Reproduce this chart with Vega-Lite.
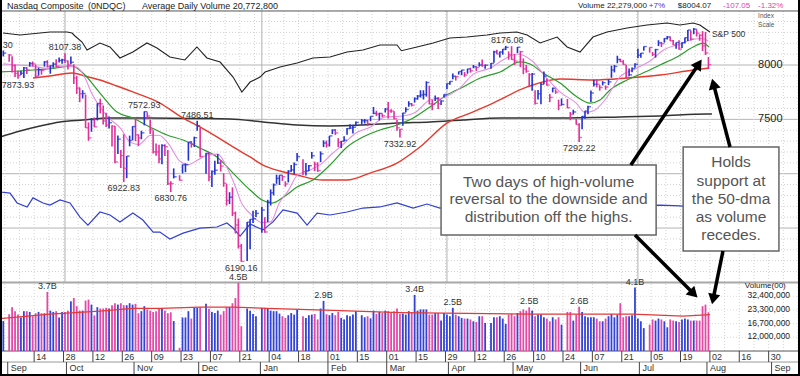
{
"$schema":"https://vega.github.io/schema/vega-lite/v6.json",
"width":800,"height":376,"padding":0,"autosize":{"type":"none"},
"background":"white",
"config":{"view":{"stroke":null},"axis":{"disable":true},"legend":{"disable":true},"font":"Liberation Sans"},
"resolve":{"scale":{"y":"independent","color":"independent"}},
"datasets":{
"hdot":[{"p":6100},{"p":6200},{"p":6300},{"p":6400},{"p":6600},{"p":6700},{"p":6800},{"p":6900},{"p":7100},{"p":7200},{"p":7300},{"p":7400},{"p":7600},{"p":7700},{"p":7800},{"p":7900},{"p":8100},{"p":8200},{"p":8300},{"p":8400}],
"hsolid":[{"p":6500},{"p":7000},{"p":7500},{"p":8000}],
"vdot":[{"w":0.5},{"w":5.5},{"w":10.5},{"w":15.5},{"w":20.5},{"w":25.5},{"w":30.5},{"w":35.5},{"w":40.5},{"w":45.5},{"w":50.5},{"w":55.5},{"w":60.5},{"w":65.5},{"w":70.5},{"w":75.5},{"w":80.5},{"w":85.5},{"w":90.5},{"w":95.5},{"w":100.5},{"w":105.5},{"w":110.5},{"w":115.5},{"w":120.5},{"w":125.5},{"w":130.5},{"w":135.5},{"w":140.5},{"w":145.5},{"w":150.5},{"w":155.5},{"w":160.5},{"w":165.5},{"w":170.5},{"w":175.5},{"w":180.5},{"w":185.5},{"w":190.5},{"w":195.5},{"w":200.5},{"w":205.5},{"w":210.5},{"w":215.5},{"w":220.5},{"w":225.5},{"w":230.5},{"w":235.5},{"w":240.5},{"w":245.5},{"w":250.5},{"w":255.5},{"w":260.5},{"w":265.5},{"w":270.5}],
"qtr":[{"w":21},{"w":88},{"w":151},{"w":216}],
"ma200":[{"w":-1.1,"p":7338},{"w":5.7,"p":7393},{"w":12.5,"p":7439},{"w":19.3,"p":7476},{"w":27.1,"p":7494},{"w":36.3,"p":7512},{"w":49.9,"p":7512},{"w":66.9,"p":7508},{"w":77.2,"p":7503},{"w":88.4,"p":7476},{"w":100,"p":7448},{"w":111.2,"p":7439},{"w":122.4,"p":7448},{"w":134,"p":7466},{"w":145.2,"p":7476},{"w":156.5,"p":7494},{"w":169.1,"p":7512},{"w":189.5,"p":7512},{"w":209.9,"p":7522},{"w":223.5,"p":7531},{"w":239.5,"p":7549},{"w":241.2,"p":7549}],
"ma50":[{"w":10.1,"p":7880},{"w":15.9,"p":7899},{"w":23.4,"p":7926},{"w":27.8,"p":7899},{"w":32.9,"p":7862},{"w":38.7,"p":7807},{"w":44.1,"p":7752},{"w":53.3,"p":7650},{"w":61.2,"p":7512},{"w":66.9,"p":7430},{"w":72.7,"p":7338},{"w":78.2,"p":7246},{"w":84.0,"p":7154},{"w":88.4,"p":7080},{"w":94.2,"p":7025},{"w":100,"p":6988},{"w":108.8,"p":6942},{"w":117,"p":6942},{"w":124.8,"p":7006},{"w":134,"p":7098},{"w":141.8,"p":7246},{"w":151,"p":7466},{"w":158.9,"p":7558},{"w":166.7,"p":7650},{"w":178.3,"p":7798},{"w":189.5,"p":7871},{"w":200.7,"p":7862},{"w":212.3,"p":7880},{"w":223.5,"p":7908},{"w":234.8,"p":7954},{"w":240.2,"p":7972}],
"ma21":[{"w":-1.1,"p":7936},{"w":10.1,"p":7954},{"w":17.6,"p":7972},{"w":23.4,"p":7991},{"w":27.1,"p":7926},{"w":32.9,"p":7742},{"w":38.7,"p":7568},{"w":44.1,"p":7512},{"w":49.9,"p":7430},{"w":55.7,"p":7356},{"w":61.2,"p":7310},{"w":66.9,"p":7236},{"w":72.7,"p":7154},{"w":78.2,"p":7006},{"w":84.0,"p":6850},{"w":88.1,"p":6758},{"w":91.5,"p":6730},{"w":95.9,"p":6795},{"w":100,"p":6878},{"w":105.4,"p":6942},{"w":111.2,"p":7080},{"w":117,"p":7246},{"w":122.4,"p":7338},{"w":128.2,"p":7402},{"w":134,"p":7448},{"w":139.5,"p":7512},{"w":145.2,"p":7614},{"w":151,"p":7724},{"w":156.5,"p":7798},{"w":162.3,"p":7880},{"w":169.1,"p":7936},{"w":175.9,"p":8028},{"w":179.3,"p":8009},{"w":183.7,"p":7926},{"w":189.5,"p":7834},{"w":195.3,"p":7706},{"w":199.7,"p":7650},{"w":203.1,"p":7678},{"w":206.5,"p":7770},{"w":212.3,"p":7862},{"w":217.7,"p":7926},{"w":223.5,"p":8000},{"w":229.3,"p":8074},{"w":234.8,"p":8166},{"w":238.1,"p":8202},{"w":240.2,"p":8166}],
"ma10":[{"w":0,"p":8010},{"w":5,"p":8000},{"w":10,"p":7990},{"w":15,"p":7969},{"w":20,"p":7990},{"w":25,"p":7981},{"w":28,"p":7871},{"w":30,"p":7745},{"w":33,"p":7611},{"w":36,"p":7511},{"w":40,"p":7415},{"w":43,"p":7295},{"w":46,"p":7267},{"w":50,"p":7352},{"w":53,"p":7354},{"w":56,"p":7284},{"w":60,"p":7118},{"w":63,"p":7083},{"w":66,"p":7123},{"w":70,"p":7176},{"w":73,"p":7180},{"w":76,"p":7064},{"w":79,"p":6880},{"w":81,"p":6734},{"w":84,"p":6634},{"w":88,"p":6550},{"w":91,"p":6557},{"w":94,"p":6733},{"w":97,"p":6844},{"w":100,"p":6984},{"w":104,"p":7029},{"w":108,"p":7086},{"w":112,"p":7186},{"w":116,"p":7278},{"w":120,"p":7375},{"w":125,"p":7430},{"w":130,"p":7522},{"w":135,"p":7528},{"w":140,"p":7560},{"w":145,"p":7676},{"w":150,"p":7702},{"w":155,"p":7778},{"w":160,"p":7916},{"w":166,"p":7974},{"w":170,"p":8046},{"w":175,"p":8101},{"w":180,"p":8037},{"w":185,"p":7878},{"w":190,"p":7742},{"w":195,"p":7650},{"w":198,"p":7563},{"w":201,"p":7579},{"w":205,"p":7687},{"w":210,"p":7894},{"w":215,"p":7964},{"w":220,"p":8034},{"w":225,"p":8142},{"w":230,"p":8190},{"w":235,"p":8237},{"w":238,"p":8244},{"w":240,"p":8220}],
"spx":[{"w":-0.1,"s":2914},{"w":5.7,"s":2895},{"w":12.5,"s":2914},{"w":15.9,"s":2924},{"w":21.7,"s":2924},{"w":23.4,"s":2914},{"w":24.4,"s":2886},{"w":26.8,"s":2828},{"w":28.5,"s":2752},{"w":32.9,"s":2819},{"w":36.3,"s":2781},{"w":39.7,"s":2676},{"w":44.1,"s":2733},{"w":48.9,"s":2819},{"w":52.3,"s":2771},{"w":56.7,"s":2685},{"w":61.8,"s":2657},{"w":65.9,"s":2781},{"w":69.3,"s":2676},{"w":73.8,"s":2637},{"w":78.2,"s":2494},{"w":81.2,"s":2351},{"w":84.0,"s":2446},{"w":87.4,"s":2494},{"w":89.1,"s":2542},{"w":94.2,"s":2590},{"w":100,"s":2628},{"w":105.4,"s":2676},{"w":111.2,"s":2685},{"w":117,"s":2733},{"w":122.4,"s":2752},{"w":128.2,"s":2800},{"w":134,"s":2800},{"w":135.5,"s":2745},{"w":140.8,"s":2781},{"w":146.3,"s":2819},{"w":152,"s":2867},{"w":157.8,"s":2876},{"w":164.6,"s":2895},{"w":169.1,"s":2914},{"w":174.8,"s":2924},{"w":178.3,"s":2895},{"w":182.7,"s":2819},{"w":188.5,"s":2876},{"w":191.9,"s":2781},{"w":196.3,"s":2733},{"w":200.7,"s":2876},{"w":205.5,"s":2924},{"w":212.3,"s":2962},{"w":219.1,"s":2991},{"w":225.9,"s":3010},{"w":230.3,"s":2991},{"w":234.8,"s":3010},{"w":237.1,"s":2991},{"w":240.5,"s":2924}],
"rs":[{"w":-1.1,"r":2.795},{"w":2.3,"r":2.791},{"w":4.7,"r":2.754},{"w":8.1,"r":2.739},{"w":10.1,"r":2.773},{"w":13.5,"r":2.754},{"w":15.9,"r":2.746},{"w":19.3,"r":2.765},{"w":22.7,"r":2.754},{"w":26.1,"r":2.701},{"w":28.8,"r":2.671},{"w":32.9,"r":2.72},{"w":36.3,"r":2.709},{"w":39.7,"r":2.683},{"w":44.1,"r":2.716},{"w":47.5,"r":2.69},{"w":51,"r":2.645},{"w":53.3,"r":2.645},{"w":56.7,"r":2.619},{"w":61.2,"r":2.641},{"w":66.9,"r":2.66},{"w":72.7,"r":2.664},{"w":76.1,"r":2.679},{"w":78.2,"r":2.66},{"w":80.6,"r":2.63},{"w":84,"r":2.675},{"w":88.4,"r":2.653},{"w":91.8,"r":2.683},{"w":95.2,"r":2.728},{"w":100,"r":2.716},{"w":103.4,"r":2.671},{"w":106.8,"r":2.716},{"w":111.2,"r":2.709},{"w":117,"r":2.72},{"w":122.4,"r":2.735},{"w":128.2,"r":2.739},{"w":134,"r":2.754},{"w":139.5,"r":2.735},{"w":144.2,"r":2.75},{"w":148.6,"r":2.735},{"w":155.4,"r":2.743},{"w":162.3,"r":2.754},{"w":169.1,"r":2.746},{"w":175.9,"r":2.754},{"w":182.7,"r":2.739},{"w":189.5,"r":2.731},{"w":196.3,"r":2.724},{"w":203.1,"r":2.739},{"w":209.9,"r":2.743},{"w":216.7,"r":2.743},{"w":223.5,"r":2.746},{"w":230.3,"r":2.743},{"w":233.7,"r":2.739},{"w":237.1,"r":2.743},{"w":240.5,"r":2.731}],
"vavg":[{"w":-1.1,"v":1.89},{"w":15.9,"v":2.1},{"w":32.9,"v":2.26},{"w":44.1,"v":2.42},{"w":53.3,"v":2.42},{"w":66.9,"v":2.49},{"w":78.2,"v":2.49},{"w":89.8,"v":2.42},{"w":112.2,"v":2.3},{"w":135,"v":2.18},{"w":157.8,"v":2.14},{"w":180.3,"v":2.1},{"w":203.1,"v":2.1},{"w":214.3,"v":2.1},{"w":231.4,"v":2.0},{"w":240.5,"v":2.08}],
"px":[
{"w":0,"h":8133,"l":8079,"c":8110,"d":"up","v":1.78},
{"w":2,"h":8102,"l":8029,"c":8091,"d":"dn","v":2.1},
{"w":3,"h":8080,"l":7931,"c":7995,"d":"dn","v":2.49},
{"w":4,"h":8004,"l":7889,"c":7923,"d":"dn","v":2.26},
{"w":5,"h":7948,"l":7874,"c":7903,"d":"dn","v":2.08},
{"w":6,"h":7948,"l":7907,"c":7924,"d":"up","v":1.94},
{"w":7,"h":7981,"l":7880,"c":7973,"d":"up","v":2.26},
{"w":8,"h":7979,"l":7918,"c":7954,"d":"dn","v":2.26},
{"w":9,"h":8028,"l":7985,"c":8014,"d":"up","v":2.22},
{"w":10,"h":8033,"l":7986,"c":8010,"d":"dn","v":2.0},
{"w":11,"h":8003,"l":7888,"c":7896,"d":"dn","v":2.15},
{"w":12,"h":7976,"l":7901,"c":7956,"d":"up","v":2.22},
{"w":13,"h":7964,"l":7911,"c":7950,"d":"dn","v":2.15},
{"w":14,"h":8036,"l":7985,"c":8028,"d":"up","v":2.15},
{"w":15,"h":8044,"l":7977,"c":7987,"d":"dn","v":3.6},
{"w":16,"h":7996,"l":7920,"c":7993,"d":"up","v":2.29},
{"w":17,"h":8025,"l":7976,"c":8008,"d":"up","v":2.22},
{"w":18,"h":8054,"l":7978,"c":7990,"d":"dn","v":2.26},
{"w":19,"h":8069,"l":8022,"c":8042,"d":"up","v":1.94},
{"w":20,"h":8058,"l":8012,"c":8046,"d":"up","v":2.22},
{"w":21,"h":8107,"l":8018,"c":8037,"d":"dn","v":2.22},
{"w":22,"h":8042,"l":7959,"c":8000,"d":"dn","v":2.29},
{"w":23,"h":8079,"l":8006,"c":8025,"d":"up","v":2.87},
{"w":24,"h":8007,"l":7825,"c":7880,"d":"dn","v":3.11},
{"w":25,"h":7898,"l":7734,"c":7788,"d":"dn","v":2.55},
{"w":26,"h":7793,"l":7658,"c":7736,"d":"dn","v":2.29},
{"w":27,"h":7768,"l":7692,"c":7738,"d":"up","v":2.29},
{"w":28,"h":7728,"l":7421,"c":7422,"d":"dn","v":2.92},
{"w":29,"h":7472,"l":7303,"c":7329,"d":"dn","v":2.99},
{"w":30,"h":7512,"l":7386,"c":7497,"d":"up","v":2.65},
{"w":31,"h":7518,"l":7428,"c":7431,"d":"dn","v":2.04},
{"w":32,"h":7647,"l":7490,"c":7646,"d":"up","v":2.49},
{"w":33,"h":7690,"l":7555,"c":7643,"d":"dn","v":2.41},
{"w":34,"h":7628,"l":7452,"c":7485,"d":"dn","v":2.41},
{"w":35,"h":7560,"l":7429,"c":7449,"d":"dn","v":2.45},
{"w":36,"h":7526,"l":7415,"c":7469,"d":"up","v":2.41},
{"w":37,"h":7445,"l":7250,"c":7438,"d":"dn","v":2.61},
{"w":38,"h":7439,"l":7096,"c":7108,"d":"dn","v":2.74},
{"w":39,"h":7352,"l":7182,"c":7318,"d":"up","v":2.65},
{"w":40,"h":7218,"l":7053,"c":7167,"d":"dn","v":2.74},
{"w":41,"h":7362,"l":6923,"c":7050,"d":"dn","v":2.61},
{"w":42,"h":7163,"l":6959,"c":7162,"d":"up","v":2.61},
{"w":43,"h":7350,"l":7252,"c":7306,"d":"up","v":2.74},
{"w":44,"h":7437,"l":7310,"c":7434,"d":"up","v":2.65},
{"w":45,"h":7520,"l":7299,"c":7357,"d":"dn","v":2.7},
{"w":46,"h":7362,"l":7254,"c":7329,"d":"dn","v":2.15},
{"w":47,"h":7395,"l":7317,"c":7376,"d":"up","v":2.26},
{"w":48,"h":7573,"l":7445,"c":7571,"d":"up","v":2.55},
{"w":49,"h":7565,"l":7504,"c":7531,"d":"dn","v":2.36},
{"w":50,"h":7496,"l":7366,"c":7407,"d":"dn","v":2.29},
{"w":51,"h":7399,"l":7185,"c":7201,"d":"dn","v":2.22},
{"w":52,"h":7278,"l":7165,"c":7200,"d":"dn","v":2.26},
{"w":53,"h":7267,"l":7096,"c":7136,"d":"dn","v":2.41},
{"w":54,"h":7272,"l":7086,"c":7259,"d":"up","v":2.41},
{"w":55,"h":7270,"l":7162,"c":7248,"d":"dn","v":2.29},
{"w":56,"h":7219,"l":6895,"c":6909,"d":"dn","v":2.15},
{"w":57,"h":6931,"l":6831,"c":6909,"d":"dn","v":2.2},
{"w":58,"h":7049,"l":6957,"c":6972,"d":"up","v":1.78},
{"w":60,"h":6986,"l":6937,"c":6939,"d":"dn","v":0.93},
{"w":61,"h":7084,"l":7003,"c":7082,"d":"up","v":1.94},
{"w":62,"h":7095,"l":7014,"c":7083,"d":"up","v":1.94},
{"w":63,"h":7292,"l":7120,"c":7292,"d":"up","v":2.26},
{"w":64,"h":7300,"l":7240,"c":7273,"d":"dn","v":1.89},
{"w":65,"h":7341,"l":7246,"c":7331,"d":"up","v":2.45},
{"w":66,"h":7487,"l":7395,"c":7442,"d":"up","v":2.45},
{"w":67,"h":7423,"l":7151,"c":7158,"d":"dn","v":2.49},
{"w":69,"h":7191,"l":7000,"c":7188,"d":"up","v":2.7},
{"w":70,"h":7197,"l":6930,"c":6969,"d":"dn","v":2.4},
{"w":71,"h":7029,"l":6878,"c":7021,"d":"up","v":2.22},
{"w":72,"h":7119,"l":6990,"c":7032,"d":"up","v":2.16},
{"w":73,"h":7180,"l":7090,"c":7098,"d":"up","v":2.29},
{"w":74,"h":7126,"l":7020,"c":7070,"d":"dn","v":2.08},
{"w":75,"h":7005,"l":6880,"c":6911,"d":"dn","v":2.26},
{"w":76,"h":6905,"l":6707,"c":6754,"d":"dn","v":2.49},
{"w":77,"h":6830,"l":6720,"c":6784,"d":"up","v":2.49},
{"w":78,"h":6874,"l":6611,"c":6637,"d":"dn","v":2.74},
{"w":79,"h":6651,"l":6450,"c":6528,"d":"dn","v":3.1},
{"w":80,"h":6587,"l":6312,"c":6333,"d":"dn","v":4.5},
{"w":81,"h":6355,"l":6190,"c":6193,"d":"dn","v":1.57},
{"w":83,"h":6555,"l":6197,"c":6554,"d":"up","v":2.41},
{"w":84,"h":6580,"l":6305,"c":6580,"d":"up","v":2.29},
{"w":85,"h":6660,"l":6546,"c":6585,"d":"up","v":2.11},
{"w":86,"h":6665,"l":6602,"c":6635,"d":"up","v":2.0},
{"w":88,"h":6693,"l":6457,"c":6666,"d":"up","v":2.45},
{"w":89,"h":6600,"l":6457,"c":6464,"d":"dn","v":2.45},
{"w":90,"h":6760,"l":6555,"c":6739,"d":"up","v":2.41},
{"w":91,"h":6856,"l":6708,"c":6824,"d":"up","v":2.29},
{"w":92,"h":6910,"l":6800,"c":6897,"d":"up","v":2.26},
{"w":93,"h":6991,"l":6907,"c":6957,"d":"up","v":2.26},
{"w":94,"h":6987,"l":6896,"c":6986,"d":"up","v":2.13},
{"w":95,"h":6986,"l":6934,"c":6972,"d":"dn","v":2.0},
{"w":96,"h":6930,"l":6880,"c":6906,"d":"dn","v":1.92},
{"w":97,"h":7032,"l":6920,"c":7024,"d":"up","v":2.05},
{"w":98,"h":7080,"l":7018,"c":7035,"d":"up","v":2.16},
{"w":99,"h":7102,"l":6995,"c":7085,"d":"up","v":2.08},
{"w":100,"h":7190,"l":7115,"c":7157,"d":"up","v":2.36},
{"w":102,"h":7133,"l":6988,"c":7020,"d":"dn","v":2.0},
{"w":103,"h":7098,"l":6983,"c":7026,"d":"up","v":1.92},
{"w":104,"h":7081,"l":7025,"c":7074,"d":"up","v":2.05},
{"w":105,"h":7200,"l":7139,"c":7165,"d":"up","v":2.08},
{"w":106,"h":7111,"l":7024,"c":7086,"d":"dn","v":2.11},
{"w":107,"h":7105,"l":7017,"c":7028,"d":"dn","v":1.85},
{"w":108,"h":7205,"l":7106,"c":7183,"d":"up","v":2.41},
{"w":109,"h":7307,"l":7245,"c":7282,"d":"up","v":2.9},
{"w":110,"h":7305,"l":7240,"c":7264,"d":"dn","v":2.1},
{"w":111,"h":7348,"l":7250,"c":7348,"d":"up","v":2.05},
{"w":112,"h":7408,"l":7364,"c":7402,"d":"up","v":2.16},
{"w":113,"h":7410,"l":7357,"c":7375,"d":"dn","v":2.05},
{"w":114,"h":7327,"l":7245,"c":7288,"d":"dn","v":2.22},
{"w":115,"h":7300,"l":7236,"c":7298,"d":"up","v":1.92},
{"w":116,"h":7345,"l":7297,"c":7308,"d":"up","v":1.85},
{"w":117,"h":7421,"l":7359,"c":7415,"d":"up","v":2.05},
{"w":118,"h":7455,"l":7411,"c":7420,"d":"up","v":2.0},
{"w":119,"h":7451,"l":7370,"c":7427,"d":"up","v":2.08},
{"w":120,"h":7480,"l":7437,"c":7472,"d":"up","v":2.26},
{"w":122,"h":7503,"l":7452,"c":7487,"d":"up","v":2.05},
{"w":123,"h":7503,"l":7462,"c":7489,"d":"up","v":1.95},
{"w":124,"h":7496,"l":7438,"c":7460,"d":"dn","v":2.0},
{"w":125,"h":7528,"l":7483,"c":7528,"d":"up","v":1.9},
{"w":126,"h":7614,"l":7548,"c":7555,"d":"up","v":2.29},
{"w":127,"h":7580,"l":7530,"c":7549,"d":"dn","v":2.11},
{"w":128,"h":7560,"l":7490,"c":7555,"d":"up","v":2.22},
{"w":129,"h":7552,"l":7519,"c":7533,"d":"dn","v":2.16},
{"w":130,"h":7603,"l":7563,"c":7595,"d":"up","v":2.29},
{"w":131,"h":7660,"l":7509,"c":7578,"d":"dn","v":2.26},
{"w":132,"h":7594,"l":7560,"c":7576,"d":"dn","v":2.16},
{"w":133,"h":7575,"l":7501,"c":7506,"d":"dn","v":2.26},
{"w":134,"h":7495,"l":7396,"c":7422,"d":"dn","v":2.41},
{"w":135,"h":7412,"l":7333,"c":7408,"d":"dn","v":2.11},
{"w":136,"h":7560,"l":7442,"c":7558,"d":"up","v":2.13},
{"w":137,"h":7612,"l":7565,"c":7591,"d":"up","v":2.08},
{"w":138,"h":7667,"l":7616,"c":7643,"d":"up","v":2.26},
{"w":139,"h":7650,"l":7619,"c":7631,"d":"dn","v":2.2},
{"w":140,"h":7702,"l":7654,"c":7689,"d":"up","v":3.35},
{"w":141,"h":7723,"l":7681,"c":7715,"d":"up","v":2.29},
{"w":142,"h":7768,"l":7701,"c":7724,"d":"up","v":2.36},
{"w":143,"h":7768,"l":7683,"c":7729,"d":"up","v":2.36},
{"w":144,"h":7850,"l":7709,"c":7839,"d":"up","v":2.36},
{"w":145,"h":7810,"l":7638,"c":7643,"d":"dn","v":2.08},
{"w":146,"h":7680,"l":7584,"c":7638,"d":"dn","v":2.08},
{"w":147,"h":7720,"l":7670,"c":7692,"d":"up","v":2.16},
{"w":148,"h":7705,"l":7595,"c":7643,"d":"dn","v":2.16},
{"w":149,"h":7676,"l":7632,"c":7669,"d":"up","v":1.8},
{"w":150,"h":7732,"l":7700,"c":7729,"d":"up","v":2.16},
{"w":151,"h":7830,"l":7780,"c":7829,"d":"up","v":2.08},
{"w":152,"h":7850,"l":7818,"c":7849,"d":"up","v":2.0},
{"w":153,"h":7922,"l":7870,"c":7896,"d":"up","v":2.45},
{"w":154,"h":7901,"l":7857,"c":7892,"d":"dn","v":2.08},
{"w":155,"h":7940,"l":7912,"c":7939,"d":"up","v":2.0},
{"w":156,"h":7955,"l":7906,"c":7954,"d":"up","v":1.92},
{"w":157,"h":7935,"l":7891,"c":7909,"d":"dn","v":1.89},
{"w":158,"h":7966,"l":7920,"c":7964,"d":"up","v":1.89},
{"w":159,"h":7975,"l":7930,"c":7947,"d":"dn","v":1.85},
{"w":160,"h":8000,"l":7970,"c":7984,"d":"up","v":1.77},
{"w":161,"h":7988,"l":7945,"c":7976,"d":"dn","v":1.74},
{"w":162,"h":8025,"l":7985,"c":8000,"d":"up","v":2.0},
{"w":163,"h":8051,"l":7983,"c":7996,"d":"dn","v":2.0},
{"w":164,"h":8004,"l":7966,"c":7998,"d":"up","v":1.7},
{"w":166,"h":8018,"l":7966,"c":8015,"d":"up","v":1.7},
{"w":167,"h":8130,"l":8021,"c":8121,"d":"up","v":1.95},
{"w":168,"h":8140,"l":8100,"c":8102,"d":"dn","v":1.95},
{"w":169,"h":8125,"l":8070,"c":8119,"d":"up","v":2.0},
{"w":170,"h":8147,"l":8095,"c":8146,"d":"up","v":1.89},
{"w":171,"h":8176,"l":8137,"c":8162,"d":"up","v":1.66},
{"w":172,"h":8125,"l":8049,"c":8095,"d":"dn","v":2.08},
{"w":173,"h":8173,"l":8048,"c":8050,"d":"dn","v":2.11},
{"w":174,"h":8101,"l":8000,"c":8037,"d":"dn","v":2.0},
{"w":175,"h":8166,"l":8110,"c":8164,"d":"up","v":2.16},
{"w":176,"h":8130,"l":7980,"c":8123,"d":"dn","v":2.26},
{"w":177,"h":8060,"l":7915,"c":7964,"d":"dn","v":2.36},
{"w":178,"h":8000,"l":7929,"c":7943,"d":"dn","v":2.29},
{"w":179,"h":7925,"l":7800,"c":7911,"d":"dn","v":2.48},
{"w":180,"h":7926,"l":7764,"c":7917,"d":"up","v":2.29},
{"w":181,"h":7768,"l":7636,"c":7647,"d":"dn","v":2.0},
{"w":182,"h":7770,"l":7683,"c":7735,"d":"up","v":2.08},
{"w":183,"h":7837,"l":7638,"c":7822,"d":"up","v":2.08},
{"w":184,"h":7940,"l":7824,"c":7898,"d":"up","v":1.95},
{"w":185,"h":7876,"l":7809,"c":7816,"d":"dn","v":1.89},
{"w":186,"h":7734,"l":7658,"c":7702,"d":"dn","v":1.77},
{"w":187,"h":7792,"l":7748,"c":7786,"d":"up","v":1.95},
{"w":188,"h":7776,"l":7735,"c":7751,"d":"dn","v":1.85},
{"w":189,"h":7681,"l":7584,"c":7628,"d":"dn","v":1.95},
{"w":190,"h":7692,"l":7627,"c":7637,"d":"up","v":1.63},
{"w":192,"h":7688,"l":7602,"c":7607,"d":"dn","v":2.22},
{"w":193,"h":7568,"l":7492,"c":7547,"d":"dn","v":2.22},
{"w":194,"h":7589,"l":7545,"c":7568,"d":"up","v":1.8},
{"w":195,"h":7504,"l":7452,"c":7453,"d":"dn","v":2.08},
{"w":196,"h":7464,"l":7292,"c":7333,"d":"dn","v":2.52},
{"w":197,"h":7530,"l":7410,"c":7527,"d":"up","v":2.22},
{"w":198,"h":7580,"l":7506,"c":7576,"d":"up","v":2.0},
{"w":199,"h":7625,"l":7548,"c":7616,"d":"up","v":1.95},
{"w":200,"h":7765,"l":7660,"c":7742,"d":"up","v":1.95},
{"w":201,"h":7865,"l":7802,"c":7823,"d":"up","v":1.95},
{"w":202,"h":7870,"l":7795,"c":7823,"d":"dn","v":1.89},
{"w":203,"h":7815,"l":7764,"c":7793,"d":"dn","v":1.77},
{"w":204,"h":7851,"l":7812,"c":7837,"d":"up","v":1.77},
{"w":205,"h":7812,"l":7772,"c":7797,"d":"dn","v":1.89},
{"w":206,"h":7867,"l":7815,"c":7845,"d":"up","v":2.0},
{"w":207,"h":7993,"l":7882,"c":7954,"d":"up","v":2.11},
{"w":208,"h":8000,"l":7932,"c":7987,"d":"up","v":1.95},
{"w":209,"h":8085,"l":8016,"c":8051,"d":"up","v":2.08},
{"w":210,"h":8058,"l":8027,"c":8032,"d":"dn","v":2.74},
{"w":211,"h":8045,"l":8002,"c":8006,"d":"dn","v":1.95},
{"w":212,"h":8000,"l":7875,"c":7885,"d":"dn","v":2.0},
{"w":213,"h":7968,"l":7897,"c":7910,"d":"up","v":2.0},
{"w":214,"h":7977,"l":7934,"c":7968,"d":"up","v":2.05},
{"w":215,"h":8016,"l":7974,"c":8006,"d":"up","v":4.0},
{"w":216,"h":8149,"l":8064,"c":8091,"d":"up","v":1.89},
{"w":217,"h":8110,"l":8067,"c":8109,"d":"up","v":1.77},
{"w":218,"h":8171,"l":8132,"c":8170,"d":"up","v":1.5},
{"w":220,"h":8163,"l":8114,"c":8162,"d":"dn","v":1.63},
{"w":221,"h":8119,"l":8083,"c":8098,"d":"dn","v":1.85},
{"w":222,"h":8148,"l":8068,"c":8142,"d":"up","v":1.8},
{"w":223,"h":8228,"l":8174,"c":8203,"d":"up","v":1.89},
{"w":224,"h":8213,"l":8165,"c":8196,"d":"dn","v":1.85},
{"w":225,"h":8247,"l":8206,"c":8244,"d":"up","v":1.77},
{"w":226,"h":8267,"l":8235,"c":8258,"d":"up","v":1.53},
{"w":227,"h":8262,"l":8220,"c":8223,"d":"dn","v":1.85},
{"w":228,"h":8230,"l":8184,"c":8185,"d":"dn","v":1.8},
{"w":229,"h":8208,"l":8150,"c":8207,"d":"up","v":1.77},
{"w":230,"h":8227,"l":8141,"c":8147,"d":"dn","v":1.74},
{"w":231,"h":8210,"l":8157,"c":8204,"d":"up","v":1.85},
{"w":232,"h":8252,"l":8200,"c":8251,"d":"up","v":1.89},
{"w":233,"h":8323,"l":8220,"c":8322,"d":"up","v":1.85},
{"w":234,"h":8318,"l":8226,"c":8239,"d":"dn","v":1.8},
{"w":235,"h":8340,"l":8283,"c":8330,"d":"up","v":1.8},
{"w":236,"h":8327,"l":8262,"c":8293,"d":"dn","v":1.8},
{"w":237,"h":8282,"l":8223,"c":8274,"d":"dn","v":1.8},
{"w":238,"h":8312,"l":8129,"c":8175,"d":"dn","v":2.55},
{"w":239,"h":8305,"l":8092,"c":8111,"d":"dn","v":2.65},
{"w":240,"h":8074,"l":7962,"c":8004,"d":"dn","v":2.2}
],
"hiLab":[{"w":-2.3,"p":8133.3,"t":"8133.30"},{"w":21,"p":8107.38,"t":"8107.38"},{"w":48,"p":7572.93,"t":"7572.93"},{"w":66,"p":7486.51,"t":"7486.51"},{"w":171.5,"p":8176.08,"t":"8176.08"}],
"loLab":[{"w":5,"p":7873.93,"t":"7873.93"},{"w":41,"p":6922.83,"t":"6922.83"},{"w":57,"p":6830.76,"t":"6830.76"},{"w":81,"p":6190.16,"t":"6190.16"},{"w":135,"p":7332.92,"t":"7332.92"},{"w":196,"p":7292.22,"t":"7292.22"}],
"volLab":[{"w":15,"v":3.6,"t":"3.7B"},{"w":80,"v":4.5,"t":"4.5B"},{"w":109,"v":2.9,"t":"2.9B"},{"w":140,"v":3.35,"t":"3.4B"},{"w":153,"v":2.45,"t":"2.5B"},{"w":179,"v":2.48,"t":"2.5B"},{"w":196,"v":2.52,"t":"2.6B"},{"w":215,"v":4.0,"t":"4.1B"}],
"days":[{"w":10.5,"t":"14"},{"w":20.5,"t":"28"},{"w":30.5,"t":"12"},{"w":40.5,"t":"26"},{"w":50.5,"t":"09"},{"w":60.5,"t":"23"},{"w":70.5,"t":"07"},{"w":80.5,"t":"21"},{"w":90.5,"t":"04"},{"w":100.5,"t":"18"},{"w":110.5,"t":"01"},{"w":120.5,"t":"15"},{"w":130.5,"t":"01"},{"w":140.5,"t":"15"},{"w":150.5,"t":"29"},{"w":160.5,"t":"12"},{"w":170.5,"t":"26"},{"w":180.5,"t":"10"},{"w":190.5,"t":"24"},{"w":200.5,"t":"07"},{"w":210.5,"t":"21"},{"w":220.5,"t":"05"},{"w":230.5,"t":"19"},{"w":240.5,"t":"02"},{"w":250.5,"t":"16"},{"w":260.5,"t":"30"}],
"months":[{"w":1.5,"t":"Sep"},{"w":21.5,"t":"Oct"},{"w":44.5,"t":"Nov"},{"w":66.5,"t":"Dec"},{"w":87.5,"t":"Jan"},{"w":110.5,"t":"Feb"},{"w":130.5,"t":"Mar"},{"w":151.5,"t":"Apr"},{"w":173.5,"t":"May"},{"w":196.5,"t":"Jun"},{"w":216.5,"t":"Jul"},{"w":239.5,"t":"Aug"},{"w":261.5,"t":"Sep"}],
"hdrL":[{"w":1.26,"t":"Nasdaq Composite"},{"w":28.8,"t":"(0NDQC)"},{"w":47.2,"t":"Average Daily Volume 20,772,800"}],
"hdrR":[{"w":195.6,"t":"Volume 22,279,000","k":"n"},{"w":219.7,"t":"+7%","k":"pos"},{"w":229.6,"t":"$8004.07","k":"n"},{"w":245.0,"t":"-107.05","k":"neg"},{"w":256.9,"t":"-1.32%","k":"neg"}],
"pax":[{"p":8000,"t":"8000"},{"p":7500,"t":"7500"}],
"idx":[{"p":8450.8,"t":"Index"},{"p":8368,"t":"Scale"}],
"vax":[{"v":3.24,"t":"32,400,000"},{"v":2.33,"t":"23,300,000"},{"v":1.67,"t":"16,700,000"},{"v":1.2,"t":"12,000,000"}],
"boxes":[{"w":149.0,"w2":222.2,"p":7080,"p2":6436},{"w":231.4,"w2":264.0,"p":7245.6,"p2":6288.8}],
"notes":[{"w":185.6,"p":6926.4,"t":"Two days of high-volume"},{"w":185.6,"p":6764.4,"t":"reversal to the downside and"},{"w":185.6,"p":6598.8,"t":"distribution off the highs."},{"w":247.7,"p":7107.6,"t":"Holds"},{"w":247.7,"p":6937.4,"t":"support at"},{"w":247.7,"p":6767.2,"t":"the 50-dma"},{"w":247.7,"p":6601.6,"t":"as volume"},{"w":247.7,"p":6436,"t":"recedes."}],
"arrows":[{"id":"A","w":213.6,"p":7080,"w2":236.7,"p2":8009.2},{"id":"B","w":247.35,"p":7245.6,"w2":241.7,"p2":7827},{"id":"C","w":215.0,"p":6436,"w2":235.0,"p2":5895},{"id":"D","w":244.95,"p":6288.8,"w2":241.6,"p2":5846.3}]
},
"layer":[
{"data":{"name":"hdot"},"mark":{"type":"rule","stroke":"#d2d2d2","strokeDash":[1,2],"strokeWidth":1},"encoding":{"y":{"field":"p","type":"quantitative","scale":{"domain":[5139,8598],"nice":false,"zero":false}}}},
{"data":{"name":"hsolid"},"mark":{"type":"rule","stroke":"#b4b4b4","strokeWidth":1},"encoding":{"y":{"field":"p","type":"quantitative","scale":{"domain":[5139,8598],"nice":false,"zero":false}}}},
{"data":{"name":"vdot"},"mark":{"type":"rule","stroke":"#d2d2d2","strokeDash":[1,2],"strokeWidth":1},"encoding":{"x":{"field":"w","type":"quantitative","scale":{"domain":[-1.123,271.17],"nice":false,"zero":false}},"y":{"datum":8497,"type":"quantitative","scale":{"domain":[5139,8598],"nice":false,"zero":false}},"y2":{"datum":5368.8}}},
{"data":{"name":"qtr"},"mark":{"type":"rule","stroke":"#b0b0b0","strokeWidth":1},"encoding":{"x":{"field":"w","type":"quantitative","scale":{"domain":[-1.123,271.17],"nice":false,"zero":false}},"y":{"datum":8497,"type":"quantitative","scale":{"domain":[5139,8598],"nice":false,"zero":false}},"y2":{"datum":5999}}},
{"data":{"name":"vax"},"mark":{"type":"rule","stroke":"#dadada","strokeDash":[1,2],"strokeWidth":1},"encoding":{"y":{"field":"v","type":"quantitative","scale":{"type":"log","domain":[0.4704,4225],"nice":false}}}},
{"data":{"values":[{}]},"mark":{"type":"rule","stroke":"#555555","strokeWidth":1},"encoding":{"y":{"datum":8497,"type":"quantitative","scale":{"domain":[5139,8598],"nice":false,"zero":false}}}},
{"data":{"values":[{}]},"mark":{"type":"rule","stroke":"#a8a8a8","strokeWidth":2},"encoding":{"y":{"datum":5999,"type":"quantitative","scale":{"domain":[5139,8598],"nice":false,"zero":false}}}},
{"data":{"values":[{}]},"mark":{"type":"rule","stroke":"#555555","strokeWidth":1},"encoding":{"y":{"datum":5368.8,"type":"quantitative","scale":{"domain":[5139,8598],"nice":false,"zero":false}}}},
{"data":{"values":[{}]},"mark":{"type":"rule","stroke":"#999999","strokeWidth":1},"encoding":{"y":{"datum":5267.6,"type":"quantitative","scale":{"domain":[5139,8598],"nice":false,"zero":false}}}},
{"data":{"name":"ma200"},"mark":{"type":"line","stroke":"#333333","strokeWidth":1.5,"interpolate":"monotone"},"encoding":{"x":{"field":"w","type":"quantitative","scale":{"domain":[-1.123,271.17],"nice":false,"zero":false}},"y":{"field":"p","type":"quantitative","scale":{"domain":[5139,8598],"nice":false,"zero":false}}}},
{"data":{"name":"ma50"},"mark":{"type":"line","stroke":"#e63a2e","strokeWidth":1.4,"interpolate":"monotone"},"encoding":{"x":{"field":"w","type":"quantitative","scale":{"domain":[-1.123,271.17],"nice":false,"zero":false}},"y":{"field":"p","type":"quantitative","scale":{"domain":[5139,8598],"nice":false,"zero":false}}}},
{"data":{"name":"ma21"},"mark":{"type":"line","stroke":"#2a9d2a","strokeWidth":1.2,"interpolate":"monotone"},"encoding":{"x":{"field":"w","type":"quantitative","scale":{"domain":[-1.123,271.17],"nice":false,"zero":false}},"y":{"field":"p","type":"quantitative","scale":{"domain":[5139,8598],"nice":false,"zero":false}}}},
{"data":{"name":"ma10"},"mark":{"type":"line","stroke":"#e68ee2","strokeWidth":1.1,"interpolate":"monotone"},"encoding":{"x":{"field":"w","type":"quantitative","scale":{"domain":[-1.123,271.17],"nice":false,"zero":false}},"y":{"field":"p","type":"quantitative","scale":{"domain":[5139,8598],"nice":false,"zero":false}}}},
{"data":{"name":"spx"},"mark":{"type":"line","stroke":"#222222","strokeWidth":1.1},"encoding":{"x":{"field":"w","type":"quantitative","scale":{"domain":[-1.123,271.17],"nice":false,"zero":false}},"y":{"field":"s","type":"quantitative","scale":{"domain":[-361,3229.6],"nice":false,"zero":false}}}},
{"data":{"name":"rs"},"mark":{"type":"line","stroke":"#3340d0","strokeWidth":1.2},"encoding":{"x":{"field":"w","type":"quantitative","scale":{"domain":[-1.123,271.17],"nice":false,"zero":false}},"y":{"field":"r","type":"quantitative","scale":{"domain":[2.106,3.514],"nice":false,"zero":false}}}},
{"data":{"name":"px"},"mark":{"type":"rule","strokeWidth":1.6},"encoding":{"x":{"field":"w","type":"quantitative","scale":{"domain":[-1.123,271.17],"nice":false,"zero":false}},"y":{"field":"l","type":"quantitative","scale":{"domain":[5139,8598],"nice":false,"zero":false}},"y2":{"field":"h"},"color":{"field":"d","type":"nominal","scale":{"domain":["up","dn"],"range":["#2233d0","#e0309a"]},"legend":null}}},
{"data":{"name":"px"},"mark":{"type":"tick","orient":"horizontal","size":3,"thickness":1.4,"xOffset":1.5},"encoding":{"x":{"field":"w","type":"quantitative","scale":{"domain":[-1.123,271.17],"nice":false,"zero":false}},"y":{"field":"c","type":"quantitative","scale":{"domain":[5139,8598],"nice":false,"zero":false}},"color":{"field":"d","type":"nominal","scale":{"domain":["up","dn"],"range":["#2233d0","#e0309a"]},"legend":null}}},
{"data":{"name":"px"},"mark":{"type":"rule","strokeWidth":1.8},"encoding":{"x":{"field":"w","type":"quantitative","scale":{"domain":[-1.123,271.17],"nice":false,"zero":false}},"y":{"field":"v","type":"quantitative","scale":{"type":"log","domain":[0.4704,4225],"nice":false}},"y2":{"datum":0.862},"color":{"field":"d","type":"nominal","scale":{"domain":["up","dn"],"range":["#3344d4","#e24aa6"]},"legend":null}}},
{"data":{"name":"vavg"},"mark":{"type":"line","stroke":"#e23a3a","strokeWidth":1.2},"encoding":{"x":{"field":"w","type":"quantitative","scale":{"domain":[-1.123,271.17],"nice":false,"zero":false}},"y":{"field":"v","type":"quantitative","scale":{"type":"log","domain":[0.4704,4225],"nice":false}}}},
{"data":{"name":"hiLab"},"mark":{"type":"text","fontSize":9,"fill":"#333333","baseline":"bottom","dy":-1},"encoding":{"x":{"field":"w","type":"quantitative","scale":{"domain":[-1.123,271.17],"nice":false,"zero":false}},"y":{"field":"p","type":"quantitative","scale":{"domain":[5139,8598],"nice":false,"zero":false}},"text":{"field":"t"}}},
{"data":{"name":"loLab"},"mark":{"type":"text","fontSize":9,"fill":"#333333","baseline":"top","dy":2},"encoding":{"x":{"field":"w","type":"quantitative","scale":{"domain":[-1.123,271.17],"nice":false,"zero":false}},"y":{"field":"p","type":"quantitative","scale":{"domain":[5139,8598],"nice":false,"zero":false}},"text":{"field":"t"}}},
{"data":{"name":"volLab"},"mark":{"type":"text","fontSize":9,"fill":"#333333","baseline":"bottom","dy":-1},"encoding":{"x":{"field":"w","type":"quantitative","scale":{"domain":[-1.123,271.17],"nice":false,"zero":false}},"y":{"field":"v","type":"quantitative","scale":{"type":"log","domain":[0.4704,4225],"nice":false}},"text":{"field":"t"}}},
{"data":{"name":"days"},"mark":{"type":"rule","stroke":"#444444","strokeWidth":1},"encoding":{"x":{"field":"w","type":"quantitative","scale":{"domain":[-1.123,271.17],"nice":false,"zero":false}},"y":{"datum":5368.8,"type":"quantitative","scale":{"domain":[5139,8598],"nice":false,"zero":false}},"y2":{"datum":5267.6}}},
{"data":{"name":"days"},"mark":{"type":"text","fontSize":9,"fill":"#333333","align":"left","baseline":"middle","dx":2},"encoding":{"x":{"field":"w","type":"quantitative","scale":{"domain":[-1.123,271.17],"nice":false,"zero":false}},"y":{"datum":5313.6,"type":"quantitative","scale":{"domain":[5139,8598],"nice":false,"zero":false}},"text":{"field":"t"}}},
{"data":{"name":"months"},"mark":{"type":"rule","stroke":"#444444","strokeWidth":1},"encoding":{"x":{"field":"w","type":"quantitative","scale":{"domain":[-1.123,271.17],"nice":false,"zero":false}},"y":{"datum":5267.6,"type":"quantitative","scale":{"domain":[5139,8598],"nice":false,"zero":false}},"y2":{"datum":5157}}},
{"data":{"name":"months"},"mark":{"type":"text","fontSize":9,"fill":"#333333","align":"left","baseline":"middle","dx":3},"encoding":{"x":{"field":"w","type":"quantitative","scale":{"domain":[-1.123,271.17],"nice":false,"zero":false}},"y":{"datum":5212.4,"type":"quantitative","scale":{"domain":[5139,8598],"nice":false,"zero":false}},"text":{"field":"t"}}},
{"data":{"name":"hdrL"},"mark":{"type":"text","fontSize":9,"fill":"#222222","align":"left","baseline":"middle"},"encoding":{"x":{"field":"w","type":"quantitative","scale":{"domain":[-1.123,271.17],"nice":false,"zero":false}},"y":{"datum":8543,"type":"quantitative","scale":{"domain":[5139,8598],"nice":false,"zero":false}},"text":{"field":"t"}}},
{"data":{"name":"hdrR"},"mark":{"type":"text","fontSize":8,"align":"left","baseline":"middle"},"encoding":{"x":{"field":"w","type":"quantitative","scale":{"domain":[-1.123,271.17],"nice":false,"zero":false}},"y":{"datum":8543,"type":"quantitative","scale":{"domain":[5139,8598],"nice":false,"zero":false}},"text":{"field":"t"},"color":{"field":"k","type":"nominal","scale":{"domain":["n","pos","neg"],"range":["#222222","#2b3bd6","#e03cb4"]},"legend":null}}},
{"data":{"name":"pax"},"mark":{"type":"text","fontSize":11,"fill":"#222222","align":"left","baseline":"middle"},"encoding":{"x":{"datum":256.9,"type":"quantitative","scale":{"domain":[-1.123,271.17],"nice":false,"zero":false}},"y":{"field":"p","type":"quantitative","scale":{"domain":[5139,8598],"nice":false,"zero":false}},"text":{"field":"t"}}},
{"data":{"name":"idx"},"mark":{"type":"text","fontSize":6.5,"fill":"#555555","align":"left","baseline":"middle"},"encoding":{"x":{"datum":256.9,"type":"quantitative","scale":{"domain":[-1.123,271.17],"nice":false,"zero":false}},"y":{"field":"p","type":"quantitative","scale":{"domain":[5139,8598],"nice":false,"zero":false}},"text":{"field":"t"}}},
{"data":{"values":[{"w":241.2,"p":8285,"t":"S&P 500"}]},"mark":{"type":"text","fontSize":8.5,"fill":"#333333","align":"left","baseline":"middle"},"encoding":{"x":{"field":"w","type":"quantitative","scale":{"domain":[-1.123,271.17],"nice":false,"zero":false}},"y":{"field":"p","type":"quantitative","scale":{"domain":[5139,8598],"nice":false,"zero":false}},"text":{"field":"t"}}},
{"data":{"name":"vax"},"mark":{"type":"text","fontSize":8.5,"fill":"#222222","align":"right","baseline":"middle","dy":-1},"encoding":{"x":{"datum":267.8,"type":"quantitative","scale":{"domain":[-1.123,271.17],"nice":false,"zero":false}},"y":{"field":"v","type":"quantitative","scale":{"type":"log","domain":[0.4704,4225],"nice":false}},"text":{"field":"t"}}},
{"data":{"values":[{"v":4.15,"t":"Volume(00)"}]},"mark":{"type":"text","fontSize":8,"fill":"#222222","align":"left","baseline":"middle"},"encoding":{"x":{"datum":252.4,"type":"quantitative","scale":{"domain":[-1.123,271.17],"nice":false,"zero":false}},"y":{"field":"v","type":"quantitative","scale":{"type":"log","domain":[0.4704,4225],"nice":false}},"text":{"field":"t"}}},
{"data":{"name":"boxes"},"mark":{"type":"rect","fill":"white","stroke":"#666666","strokeWidth":1.5},"encoding":{"x":{"field":"w","type":"quantitative","scale":{"domain":[-1.123,271.17],"nice":false,"zero":false}},"x2":{"field":"w2"},"y":{"field":"p","type":"quantitative","scale":{"domain":[5139,8598],"nice":false,"zero":false}},"y2":{"field":"p2"}}},
{"data":{"name":"notes"},"mark":{"type":"text","fontSize":15.5,"fill":"#555555","align":"center","baseline":"middle"},"encoding":{"x":{"field":"w","type":"quantitative","scale":{"domain":[-1.123,271.17],"nice":false,"zero":false}},"y":{"field":"p","type":"quantitative","scale":{"domain":[5139,8598],"nice":false,"zero":false}},"text":{"field":"t"}}},
{"data":{"name":"arrows"},"mark":{"type":"rule","stroke":"#000000","strokeWidth":3.5},"encoding":{"x":{"field":"w","type":"quantitative","scale":{"domain":[-1.123,271.17],"nice":false,"zero":false}},"x2":{"field":"w2"},"y":{"field":"p","type":"quantitative","scale":{"domain":[5139,8598],"nice":false,"zero":false}},"y2":{"field":"p2"}}},
{"data":{"name":"arrows"},"transform":[{"filter":"datum.id == 'A'"}],"mark":{"type":"point","shape":"triangle-up","filled":true,"fill":"#000000","size":150,"angle":33.7,"opacity":1},"encoding":{"x":{"field":"w2","type":"quantitative","scale":{"domain":[-1.123,271.17],"nice":false,"zero":false}},"y":{"field":"p2","type":"quantitative","scale":{"domain":[5139,8598],"nice":false,"zero":false}}}},
{"data":{"name":"arrows"},"transform":[{"filter":"datum.id == 'B'"}],"mark":{"type":"point","shape":"triangle-up","filled":true,"fill":"#000000","size":150,"angle":345.6,"opacity":1},"encoding":{"x":{"field":"w2","type":"quantitative","scale":{"domain":[-1.123,271.17],"nice":false,"zero":false}},"y":{"field":"p2","type":"quantitative","scale":{"domain":[5139,8598],"nice":false,"zero":false}}}},
{"data":{"name":"arrows"},"transform":[{"filter":"datum.id == 'C'"}],"mark":{"type":"point","shape":"triangle-up","filled":true,"fill":"#000000","size":150,"angle":135,"opacity":1},"encoding":{"x":{"field":"w2","type":"quantitative","scale":{"domain":[-1.123,271.17],"nice":false,"zero":false}},"y":{"field":"p2","type":"quantitative","scale":{"domain":[5139,8598],"nice":false,"zero":false}}}},
{"data":{"name":"arrows"},"transform":[{"filter":"datum.id == 'D'"}],"mark":{"type":"point","shape":"triangle-up","filled":true,"fill":"#000000","size":150,"angle":191.7,"opacity":1},"encoding":{"x":{"field":"w2","type":"quantitative","scale":{"domain":[-1.123,271.17],"nice":false,"zero":false}},"y":{"field":"p2","type":"quantitative","scale":{"domain":[5139,8598],"nice":false,"zero":false}}}},
{"data":{"values":[{}]},"mark":{"type":"rule","stroke":"#000000","strokeWidth":4},"encoding":{"x":{"datum":-1.123,"type":"quantitative","scale":{"domain":[-1.123,271.17],"nice":false,"zero":false}}}},
{"data":{"values":[{}]},"mark":{"type":"rule","stroke":"#000000","strokeWidth":4},"encoding":{"x":{"datum":271.17,"type":"quantitative","scale":{"domain":[-1.123,271.17],"nice":false,"zero":false}}}},
{"data":{"values":[{}]},"mark":{"type":"rule","stroke":"#000000","strokeWidth":4},"encoding":{"y":{"datum":5139,"type":"quantitative","scale":{"domain":[5139,8598],"nice":false,"zero":false}}}}
]
}
